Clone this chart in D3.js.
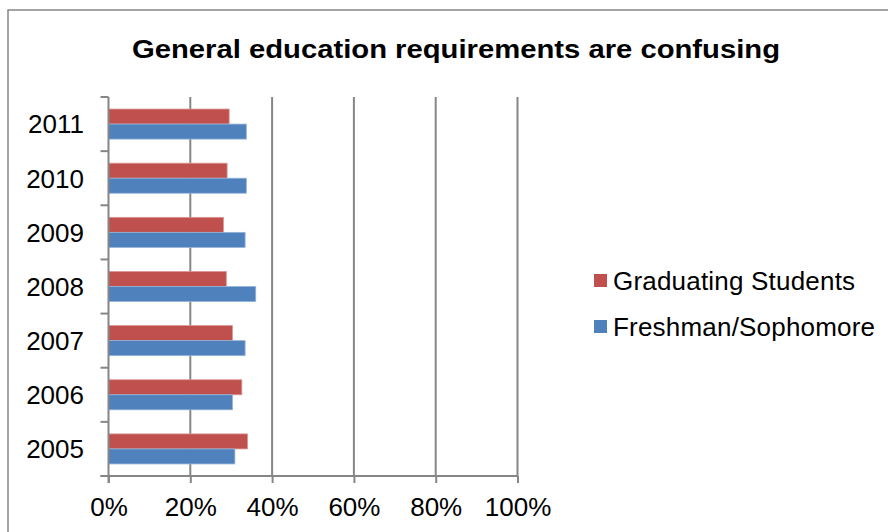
<!DOCTYPE html>
<html>
<head>
<meta charset="utf-8">
<script src="https://cdn.jsdelivr.net/npm/d3@7"></script>
<style>
  html, body { margin: 0; padding: 0; background: #fff; }
  svg { display: block; font-family: "Liberation Sans", Arial, sans-serif; }
</style>
</head>
<body>
<svg id="chart" width="888" height="532"></svg>
<script>
// Survey results by year, share agreeing with the statement
const years = ["2005", "2006", "2007", "2008", "2009", "2010", "2011"];
const seriesNames = ["Graduating Students", "Freshman/Sophomore"];
const graduating = [0.340, 0.326, 0.303, 0.288, 0.281, 0.290, 0.295];
const freshman   = [0.309, 0.303, 0.334, 0.360, 0.334, 0.337, 0.337];
const xTicks = [0, 0.2, 0.4, 0.6, 0.8, 1.0];
const colors = ["#C0504D", "#4F81BD"];
const strokes = ["#D99694", "#95B3D7"];

const svg = d3.select("#chart");
const gridColor = "#868686";

// Outer chart frame
svg.append("rect")
  .attr("x", 8).attr("y", 10)
  .attr("width", 900).attr("height", 540)
  .attr("fill", "none").attr("stroke", gridColor).attr("stroke-width", 1.5);

// Title
svg.append("text")
  .attr("x", 456).attr("y", 58)
  .attr("text-anchor", "middle")
  .attr("font-size", 26).attr("font-weight", "bold")
  .attr("textLength", 648).attr("lengthAdjust", "spacingAndGlyphs")
  .attr("fill", "#000")
  .text("General education requirements are confusing");

const plotTop = 97, plotBottom = 476, plotLeft = 108.5, plotRight = 517.5;

const x = d3.scaleLinear().domain([0, 1]).range([plotLeft, plotRight]);
const y = d3.scaleBand()
  .domain(years.slice().reverse())
  .range([plotTop, plotBottom])
  .paddingInner(0.445).paddingOuter(0.2225);
const ySub = d3.scaleBand().domain(seriesNames).range([0, y.bandwidth()]);

// Vertical gridlines
svg.append("g").selectAll("line")
  .data(xTicks.filter(t => t > 0))
  .join("line")
  .attr("x1", d => x(d)).attr("x2", d => x(d))
  .attr("y1", plotTop).attr("y2", plotBottom)
  .attr("stroke", gridColor).attr("stroke-width", 2);

// Bars
const rows = years.map((yr, i) => ({ year: yr, values: [graduating[i], freshman[i]] }));
const groups = svg.append("g").selectAll("g")
  .data(rows).join("g")
  .attr("transform", d => `translate(0,${y(d.year)})`);
groups.selectAll("rect")
  .data(d => d.values.map((v, k) => ({ v, k })))
  .join("rect")
  .attr("x", x(0))
  .attr("y", d => ySub(seriesNames[d.k]))
  .attr("width", d => x(d.v) - x(0))
  .attr("height", ySub.bandwidth())
  .attr("fill", d => colors[d.k])
  .attr("stroke", d => strokes[d.k])
  .attr("stroke-width", 0.8);

// X axis
const xAxis = d3.axisBottom(x)
  .tickValues(xTicks)
  .tickFormat(d3.format(".0%"))
  .tickSize(7)
  .tickPadding(15);
const gx = svg.append("g")
  .attr("transform", `translate(0,${plotBottom})`)
  .call(xAxis);
gx.select(".domain").attr("stroke", gridColor).attr("stroke-width", 2)
  .attr("d", `M${plotLeft - 8},0H${plotRight}`);
gx.selectAll(".tick line").attr("stroke", gridColor).attr("stroke-width", 2);
gx.selectAll(".tick text")
  .attr("font-size", 26).attr("fill", "#000")
  .attr("font-family", "Liberation Sans, Arial, sans-serif");

// Y axis: line, ticks at category boundaries, year labels
const gy = svg.append("g");
gy.append("line")
  .attr("x1", plotLeft).attr("x2", plotLeft)
  .attr("y1", plotTop).attr("y2", plotBottom + 7)
  .attr("stroke", gridColor).attr("stroke-width", 2);
const step = y.step();
const boundaries = d3.range(years.length + 1).map(i => plotTop + i * step);
gy.selectAll("line.tick")
  .data(boundaries).join("line")
  .attr("class", "tick")
  .attr("x1", plotLeft - 8).attr("x2", plotLeft)
  .attr("y1", d => d).attr("y2", d => d)
  .attr("stroke", gridColor).attr("stroke-width", 2);
gy.selectAll("text")
  .data(years).join("text")
  .attr("x", 84)
  .attr("y", d => y(d) + y.bandwidth() / 2)
  .attr("dy", "0.36em")
  .attr("text-anchor", "end")
  .attr("font-size", 26).attr("fill", "#000")
  .text(d => d);

// Legend
const legend = svg.append("g").selectAll("g")
  .data(seriesNames).join("g")
  .attr("transform", (d, i) => `translate(594,${281 + i * 46})`);
legend.append("rect")
  .attr("x", 0).attr("y", -7)
  .attr("width", 13).attr("height", 13)
  .attr("fill", (d, i) => colors[i]);
legend.append("text")
  .attr("x", 19).attr("y", 0).attr("dy", "0.36em")
  .attr("font-size", 26).attr("letter-spacing", 0.2).attr("fill", "#000")
  .text(d => d);
</script>
</body>
</html>
